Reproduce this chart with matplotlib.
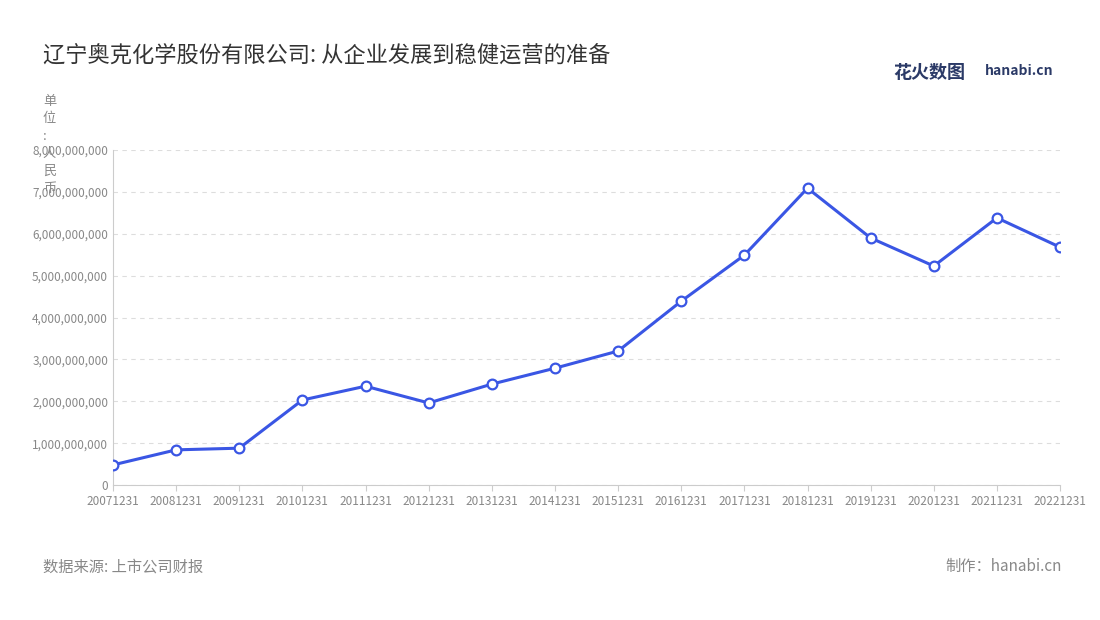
import matplotlib
matplotlib.use("Agg")
import matplotlib.pyplot as plt
from matplotlib.ticker import FuncFormatter

plt.rcParams['font.family'] = ['Noto Sans CJK SC', 'DejaVu Sans']

dates = ["20071231","20081231","20091231","20101231","20111231","20121231","20131231","20141231",
         "20151231","20161231","20171231","20181231","20191231","20201231","20211231","20221231"]
values = [0.48e9,0.84e9,0.88e9,2.03e9,2.36e9,1.96e9,2.41e9,2.79e9,
          3.20e9,4.39e9,5.49e9,7.09e9,5.90e9,5.23e9,6.38e9,5.68e9]

fig = plt.figure(figsize=(11, 6.2), dpi=100)
ax = fig.add_axes([0.1027, 0.2177, 0.861, 0.5403])
x = list(range(len(dates)))
ax.plot(x, values, color='#3a56e4', lw=2.2, marker='o', ms=7, mfc='white', mec='#3a56e4', mew=1.6, zorder=3)
ax.set_xlim(0, len(dates)-1)
ax.set_ylim(0, 8e9)
ax.set_yticks([i*1e9 for i in range(9)])
ax.yaxis.set_major_formatter(FuncFormatter(lambda v, p: f"{int(v):,}"))
ax.set_xticks(x)
ax.set_xticklabels(dates)
ax.tick_params(axis='both', labelsize=8.5, colors='#888888', length=0)
ax.tick_params(axis='x', length=4, color='#cccccc')
ax.grid(axis='y', ls=(0, (4, 4)), color='#dddddd', lw=0.8)
for s in ['top', 'right']:
    ax.spines[s].set_visible(False)
ax.spines['left'].set_color('#cccccc')
ax.spines['bottom'].set_color('#cccccc')

fig.text(0.039, 0.91, "辽宁奥克化学股份有限公司: 从企业发展到稳健运营的准备", fontsize=16, color='#333333', va='center')
fig.text(0.039, 0.847, "单\n位\n:\n人\n民\n币", fontsize=9.5, color='#888888', va='top', ha='left', linespacing=1.45)
fig.text(0.812, 0.883, "花火数图", fontsize=13, color='#2b3a67', fontweight='bold', va='center')
fig.text(0.895, 0.886, "hanabi.cn", fontsize=10, color='#2b3a67', fontweight='bold', va='center')
fig.text(0.039, 0.086, "数据来源: 上市公司财报", fontsize=11, color='#888888', va='center')
fig.text(0.965, 0.086, "制作：hanabi.cn", fontsize=11, color='#888888', va='center', ha='right')

fig.savefig("out.png", dpi=100, facecolor='white')
